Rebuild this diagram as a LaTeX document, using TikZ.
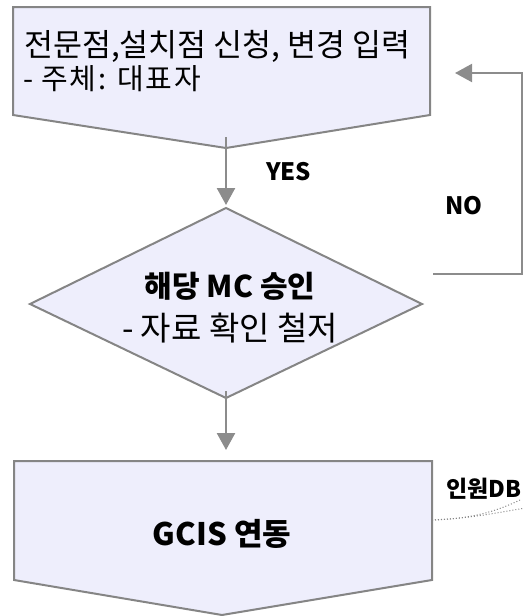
\documentclass[tikz,border=0pt]{standalone}
\usepackage{fontspec}
\setmainfont{Noto Sans CJK KR}
\usetikzlibrary{arrows.meta}
\definecolor{boxfill}{HTML}{EEEEFC}
\definecolor{boxline}{HTML}{858585}
\definecolor{arrcol}{HTML}{8C8C8C}
\begin{document}
\begin{tikzpicture}[x=1pt,y=-1pt,
  shapebox/.style={fill=boxfill,draw=boxline,line width=2pt,line join=miter},
  conn/.style={draw=arrcol,line width=2.5pt,-{Triangle[width=18pt,length=17pt]}},
  loopline/.style={draw=arrcol,line width=2pt,-{Triangle[width=18pt,length=17pt]}},
  bigtxt/.style={inner sep=0pt,font=\fontsize{31.5}{34}\selectfont},
  midtxt/.style={inner sep=0pt,font=\fontsize{29}{31}\selectfont},
  lbl/.style={inner sep=0pt,font=\fontsize{24}{26}\selectfont\bfseries},
  dotline/.style={draw=boxline,line width=1pt,dotted}]
\useasboundingbox (0,0) rectangle (524,616);
% top box
\draw[shapebox] (13,7) -- (430,7) -- (430,115) -- (226,148) -- (13,115) -- cycle;
\coordinate (toptip) at (226,148);
\node[bigtxt,anchor=base west] (t1) at (24,56) {전문점,설치점 신청, 변경 입력};
\node[midtxt,anchor=base west,font=\fontsize{29}{31}\selectfont\addfontfeature{LetterSpace=6}] (t2) at (23,89) {- 주체: 대표자};
% diamond
\draw[shapebox] (226,208) -- (422,304) -- (226,398) -- (30,304) -- cycle;
\coordinate (dtop) at (226,208);
\coordinate (dbot) at (226,398);
\coordinate (dno) at (433,274);
\node[inner sep=0pt,anchor=base,font=\fontsize{30}{32}\selectfont\bfseries] (d1) at (230,297) {해당 MC 승인};
\node[inner sep=0pt,anchor=base,font=\fontsize{33}{35}\selectfont] (d2) at (230,340) {- 자료 확인 철저};
% bottom box
\draw[shapebox] (14,461) -- (432,461) -- (432,580) -- (222,615) -- (14,580) -- cycle;
\coordinate (btop) at (226,461);
\coordinate (bright) at (432,520);
\node[inner sep=0pt,anchor=base,font=\fontsize{31}{33}\selectfont\bfseries] (g) at (222,545) {GCIS 연동};
% connectors
\draw[conn] ([yshift=11pt]toptip) -- ([yshift=3pt]dtop);
\node[lbl,anchor=base west] (yes) at (266,180) {YES};
\draw[conn] ([yshift=7pt]dbot) -- ([yshift=11pt]btop);
\coordinate (c1) at (522,274);
\coordinate (c2) at (522,73);
\coordinate (c3) at (455,73);
\draw[loopline] (dno) -- (c1) -- (c2) -- (c3);
\node[lbl,anchor=base west] (no) at (445,214) {NO};
% DB
\node[inner sep=0pt,anchor=base west,font=\fontsize{23}{25}\selectfont\bfseries] (db) at (446,497) {인원DB};
\coordinate (e1) at (520,500);
\coordinate (e2) at (526,508);
\draw[dotline] (bright) .. controls (470,519) and (495,512) .. (e1);
\draw[dotline] (bright) .. controls (475,518) and (500,512) .. (e2);
\end{tikzpicture}
\end{document}
